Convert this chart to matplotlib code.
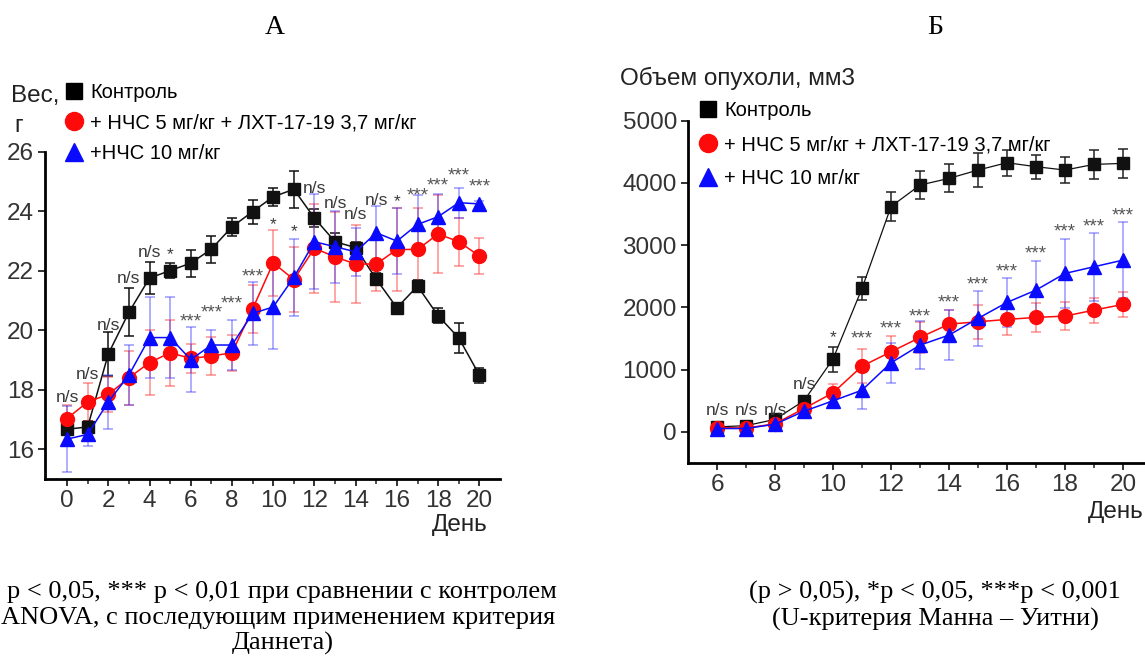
import matplotlib
matplotlib.use("Agg")
import matplotlib.pyplot as plt
from matplotlib.lines import Line2D

# --- panel A: body weight, g ---
days_a = list(range(0, 21))
ctrl_a = [16.67, 16.75, 19.2, 20.6, 21.75, 22.0, 22.25, 22.72, 23.47, 23.98, 24.48,
          24.73, 23.76, 22.97, 22.77, 21.71, 20.75, 21.48, 20.48, 19.74, 18.49]
ctrl_a_err = [0.15, 0.2, 0.75, 0.8, 0.55, 0.25, 0.45, 0.45, 0.3, 0.4, 0.3,
              0.62, 0.3, 0.3, 0.2, 0.2, 0.15, 0.2, 0.25, 0.5, 0.25]
red_a = [17.03, 17.59, 17.84, 18.40, 18.91, 19.24, 19.05, 19.13, 19.24, 20.71, 22.26,
         21.7, 22.75, 22.46, 22.22, 22.22, 22.71, 22.71, 23.23, 22.97, 22.49]
red_a_err = [0.45, 0.65, 0.6, 0.9, 1.1, 1.1, 0.5, 0.65, 0.6, 0.8, 1.1,
             1.1, 1.5, 1.5, 1.3, 0.9, 1.4, 1.4, 1.3, 0.8, 0.6]
blue_a = [16.34, 16.5, 17.59, 18.49, 19.75, 19.75, 19.01, 19.5, 19.5, 20.56, 20.78,
          21.77, 22.97, 22.8, 22.63, 23.27, 22.99, 23.55, 23.81, 24.28, 24.24]
blue_a_err = [1.1, 0.4, 0.9, 1.0, 1.35, 1.35, 1.1, 0.5, 0.85, 1.05, 1.4,
              1.3, 1.6, 1.2, 0.8, 0.9, 1.1, 1.0, 0.75, 0.5, 0.1]
sig_a = ["n/s", "n/s", "n/s", "n/s", "n/s", "*", "***", "***", "***", "***", "*",
         "*", "n/s", "n/s", "n/s", "n/s", "*", "***", "***", "***", "***"]
sig_a_y = [17.75, 18.5, 20.17, 21.75, 22.6, 22.55, 20.27, 20.57, 20.87, 21.8, 23.56,
           23.3, 24.77, 24.27, 23.87, 24.37, 24.3, 24.5, 24.84, 25.18, 24.8]

# --- panel B: tumour volume, mm3 ---
days_b = list(range(6, 21))
ctrl_b = [80, 100, 200, 500, 1170, 2305, 3620, 3966, 4073, 4207, 4325, 4261, 4207, 4298, 4314]
ctrl_b_err = [40, 40, 50, 80, 200, 180, 235, 230, 225, 280, 210, 190, 210, 230, 230]
red_b = [70, 60, 130, 375, 627, 1056, 1287, 1517, 1731, 1769, 1807, 1839, 1860, 1957, 2048]
red_b_err = [60, 50, 60, 100, 150, 270, 250, 250, 230, 270, 250, 230, 230, 200, 200]
blue_b = [54, 54, 123, 332, 499, 670, 1110, 1394, 1555, 1823, 2080, 2278, 2546, 2653, 2760]
blue_b_err = [70, 60, 70, 100, 120, 305, 320, 386, 400, 440, 400, 470, 550, 550, 616]
sig_b = ["n/s", "n/s", "n/s", "n/s", "*"] + ["***"] * 10
sig_b_y = [350, 350, 350, 766, 1517, 1485, 1646, 1849, 2064, 2358, 2572, 2852, 3215, 3296, 3468]

labels_a = ["Контроль", "+ НЧС 5 мг/кг + ЛХТ-17-19 3,7 мг/кг", "+НЧС 10 мг/кг"]
labels_b = ["Контроль", "+ НЧС 5 мг/кг + ЛХТ-17-19 3,7 мг/кг", "+ НЧС 10 мг/кг"]

SANS = ["Liberation Sans", "DejaVu Sans"]
SERIF = ["Liberation Serif", "DejaVu Serif"]
plt.rcParams["font.family"] = SANS

RED, BLUE, INK = "#ff0a0a", "#0a0aff", "#3a3a3a"
W, H = 1145, 659

fig = plt.figure(figsize=(W / 100, H / 100), dpi=100)


def px_axes(left, top, right, bottom):
    return fig.add_axes([left / W, 1 - bottom / H, (right - left) / W, (bottom - top) / H])


def draw_series(ax, x, y, err, color, marker, ms, ecolor, lw=1.1):
    ax.errorbar(x, y, yerr=err, fmt="none", ecolor=ecolor, elinewidth=1.1,
                capsize=3.5, capthick=1.1, zorder=2)
    ax.plot(x, y, color=color, lw=lw, marker=marker, ms=ms, mec=color, mfc=color, zorder=3)


def style_axes(ax):
    for s in ("top", "right"):
        ax.spines[s].set_visible(False)
    for s in ("left", "bottom"):
        ax.spines[s].set_linewidth(2.0)
    ax.tick_params(which="major", direction="out", length=5, width=1.3, pad=3,
                   labelsize=17.5, colors="#222", labelcolor="#333")
    ax.tick_params(which="minor", direction="out", length=3.5, width=1.1, colors="#222")


def add_legend(ax, labels, anchor, spacing):
    handles = [Line2D([], [], ls="none", marker="s", ms=11, color="k"),
               Line2D([], [], ls="none", marker="o", ms=13, color=RED),
               Line2D([], [], ls="none", marker="^", ms=13, color=BLUE)]
    ax.legend(handles, labels, loc="upper left", bbox_to_anchor=anchor,
              bbox_transform=fig.transFigure, frameon=False, fontsize=14.5,
              handlelength=1.0, handletextpad=0.3, labelspacing=spacing, borderpad=0,
              borderaxespad=0)


def add_marks(ax, days, marks, ys):
    for d, s, y in zip(days, marks, ys):
        if s == "***":
            ax.text(d, y, s, ha="center", va="center", color="#555", fontsize=13.5, zorder=4)
        else:
            ax.text(d, y, s, ha="center", va="center", color=INK, fontsize=12.5, zorder=4)


# ---- A ----
axA = px_axes(45, 151.5, 500, 479)
draw_series(axA, days_a, ctrl_a, ctrl_a_err, "#111", "s", 8.5, "#111")
draw_series(axA, days_a, red_a, red_a_err, RED, "o", 10, (1, 0.2, 0.2, 0.55))
draw_series(axA, days_a, blue_a, blue_a_err, BLUE, "^", 10, (0.2, 0.2, 1, 0.5))
axA.set_xlim(-1.07, 21)
axA.set_ylim(15, 26)
axA.set_xticks(range(0, 21, 2))
axA.set_xticks(range(1, 21, 2), minor=True)
axA.set_yticks(range(16, 27, 2))
style_axes(axA)
add_marks(axA, days_a, sig_a, sig_a_y)
fig.text(488 / W, 1 - 525 / H, "День", ha="right", va="center", fontsize=17.5, color="#222")
fig.text(11 / W, 1 - 96 / H, "Вес,", fontsize=17.5, va="center", color="#222")
fig.text(14 / W, 1 - 126 / H, "г", fontsize=17, va="center", color="#222")
add_legend(axA, labels_a, (64 / W, 1 - 83 / H), 0.57)

# ---- B ----
axB = px_axes(688, 120.7, 688 + 16 * 29, 463)
draw_series(axB, days_b, ctrl_b, ctrl_b_err, "#111", "s", 8.5, "#222", lw=0.9)
draw_series(axB, days_b, red_b, red_b_err, RED, "o", 10, (1, 0.2, 0.2, 0.55))
draw_series(axB, days_b, blue_b, blue_b_err, BLUE, "^", 10, (0.2, 0.2, 1, 0.5))
axB.set_xlim(5, 21)
axB.set_ylim(-500, 5000)
axB.set_xticks(range(6, 21, 2))
axB.set_xticks(range(7, 21, 2), minor=True)
axB.set_yticks(range(0, 5001, 1000))
style_axes(axB)
add_marks(axB, days_b, sig_b, sig_b_y)
fig.text(1088 / W, 1 - 512 / H, "День", ha="left", va="center", fontsize=17.5, color="#222")
fig.text(620 / W, 1 - 78 / H, "Объем опухоли, мм3", fontsize=17.5, va="center", color="#222")
add_legend(axB, labels_b, (698 / W, 1 - 101 / H), 0.75)

# ---- panel letters and captions ----
fig.text(275 / W, 1 - 28 / H, "А", ha="center", va="center", fontsize=20, family=SERIF)
fig.text(935 / W, 1 - 28 / H, "Б", ha="center", va="center", fontsize=20, family=SERIF)

cap = dict(ha="center", va="center", fontsize=19, family=SERIF)
fig.text(282 / W, 1 - 592 / H, "p < 0,05, *** p < 0,01 при сравнении с контролем", **cap)
fig.text(278 / W, 1 - 618 / H, "ANOVA, с последующим применением критерия", **cap)
fig.text(283 / W, 1 - 643 / H, "Даннета)", **cap)
fig.text(935 / W, 1 - 592 / H, "(p > 0,05), *p < 0,05, ***p < 0,001", **cap)
fig.text(935 / W, 1 - 619 / H, "(U-критерия Манна – Уитни)", **cap)

fig.savefig("out.png", dpi=100)
